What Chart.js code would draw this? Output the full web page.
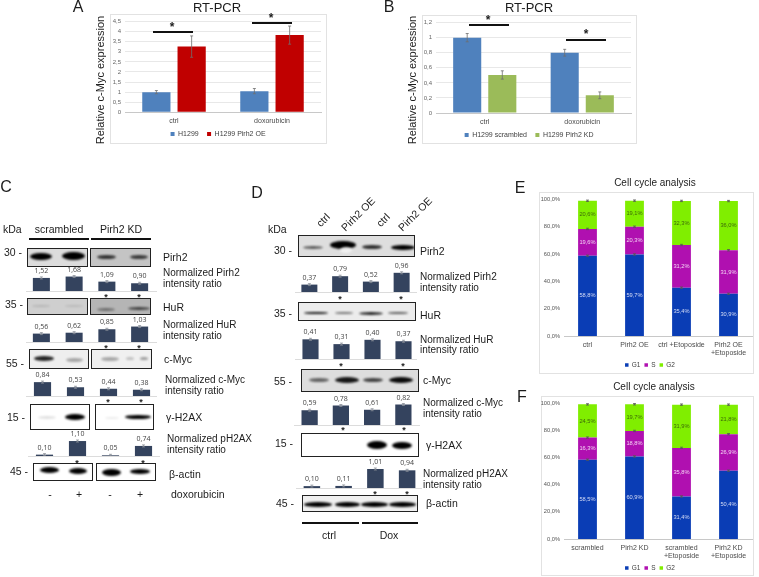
<!DOCTYPE html>
<html>
<head>
<meta charset="utf-8">
<title>c-Myc expression, blots and cell cycle</title>
<script src="https://cdn.jsdelivr.net/npm/chart.js@4"></script>
<style>
html, body { margin: 0; padding: 0; background: #fff; }
#page { position: relative; width: 759px; height: 577px; overflow: hidden; font-family: "Liberation Sans", Arial, sans-serif; color: #1c1c1c; filter: blur(0.35px); }
#page canvas { position: absolute; }
.t { position: absolute; white-space: nowrap; line-height: 1; transform: translateY(-50%); }
.c { transform: translate(-50%, -50%); }
.box { position: absolute; box-sizing: border-box; }
.blot { position: absolute; box-sizing: border-box; border: 1px solid #222; overflow: hidden; }
.band { position: absolute; border-radius: 50%; background: #000; filter: blur(1px); }
</style>
</head>
<body>
<div id="page"></div>
<script>
"use strict";

/*global Chart*/

// panels A and B
var rtCategories = ['ctrl', 'doxorubicin'],
    aTicks = [0, 0.5, 1, 1.5, 2, 2.5, 3, 3.5, 4, 4.5],
    aControl = [1.0, 1.05],
    aControlErr = [0.08, 0.13],
    aPirh2 = [3.26, 3.83],
    aPirh2Err = [0.53, 0.45],
    bScrambled = [1.0, 0.80],
    bScrambledErr = [0.055, 0.045],
    bKnockdown = [0.505, 0.235],
    bKnockdownErr = [0.055, 0.045];

// panels C and D, densitometry under the blots
var cPirh2 = [1.52, 1.68, 1.09, 0.90],
    cHuR = [0.56, 0.62, 0.85, 1.03],
    cMyc = [0.84, 0.53, 0.44, 0.38],
    cH2AX = [0.10, 1.10, 0.05, 0.74],
    dPirh2 = [0.37, 0.79, 0.52, 0.96],
    dHuR = [0.41, 0.31, 0.40, 0.37],
    dMyc = [0.59, 0.78, 0.61, 0.82],
    dH2AX = [0.10, 0.11, 1.01, 0.94];

// panels E and F, cell cycle
var eCategories = ['ctrl', 'Pirh2 OE', 'ctrl +Etoposide', ['Pirh2 OE', '+Etoposide']],
    eG1 = [58.8, 59.7, 35.4, 30.9],
    eS = [19.6, 20.3, 31.2, 31.9],
    eG2 = [20.6, 19.1, 32.3, 36.0],
    fCategories = ['scrambled', 'Pirh2 KD', ['scrambled', '+Etoposide'], ['Pirh2 KD', '+Etoposide']],
    fG1 = [58.5, 60.9, 31.4, 50.4],
    fS = [16.3, 18.8, 35.8, 26.9],
    fG2 = [24.5, 19.7, 31.9, 21.8],
    cycleErr = [0.5, 0.5, 0.5, 0.5];

var page = document.getElementById('page');

var comma = function (v, digits) {
    return v.toFixed(digits).replace('.', ',');
};

var text = function (str, x, y, size, center, extra) {
    var el = document.createElement('span');
    el.className = center ? 't c' : 't';
    el.textContent = str;
    el.style.left = x + 'px';
    el.style.top = y + 'px';
    el.style.fontSize = size + 'px';
    if (extra) {
        Object.assign(el.style, extra);
    }
    page.appendChild(el);
    return el;
};

var star = function (x, y, size) {
    text('*', x, y + size * 0.2, size, true, { fontWeight: 'bold' });
};

var rule = function (x1, x2, y, height, color) {
    var el = document.createElement('div');
    el.className = 'box';
    el.style.cssText += 'left:' + x1 + 'px;top:' + y + 'px;width:' + (x2 - x1) + 'px;height:' + height + 'px;background:' + color;
    page.appendChild(el);
};

var blot = function (x1, x2, y1, y2, bg, bands) {
    var el = document.createElement('div');
    el.className = 'blot';
    el.style.cssText += 'left:' + x1 + 'px;top:' + y1 + 'px;width:' + (x2 - x1) + 'px;height:' + (y2 - y1) + 'px;background:' + bg;
    bands.forEach(function (b) {
        var band = document.createElement('div');
        band.className = 'band';
        band.style.cssText += 'left:' + (b[0] - b[2] / 2 - x1 - 1) + 'px;top:' + (b[1] - b[3] / 2 - y1 - 1) +
            'px;width:' + b[2] + 'px;height:' + b[3] + 'px;opacity:' + b[4] + (b[5] ? ';background:' + b[5] : '');
        el.appendChild(band);
    });
    page.appendChild(el);
};

var addCanvas = function (left, top, width, height) {
    var canvas = document.createElement('canvas');
    canvas.width = width;
    canvas.height = height;
    canvas.style.left = left + 'px';
    canvas.style.top = top + 'px';
    page.appendChild(canvas);
    return canvas.getContext('2d');
};

// whiskers are not in Chart.js, so draw them from the same scales as the bars
var errorBars = {
    id: 'errorBars',
    afterDatasetsDraw: function (chart, args, options) {
        var ctx = chart.ctx,
            scale = chart.scales.y;
        ctx.save();
        ctx.strokeStyle = options.color;
        ctx.lineWidth = 0.8;
        chart.data.datasets.forEach(function (ds, i) {
            if (!ds.errors) {
                return;
            }
            chart.getDatasetMeta(i).data.forEach(function (bar, j) {
                var d = Math.abs(scale.getPixelForValue(ds.errors[j]) - scale.getPixelForValue(0));
                ctx.beginPath();
                ctx.moveTo(bar.x, bar.y - d);
                ctx.lineTo(bar.x, bar.y + d);
                ctx.moveTo(bar.x - 1.5, bar.y - d);
                ctx.lineTo(bar.x + 1.5, bar.y - d);
                ctx.moveTo(bar.x - 1.5, bar.y + d);
                ctx.lineTo(bar.x + 1.5, bar.y + d);
                ctx.stroke();
            });
        });
        ctx.restore();
    },
};

// percent labels in the stacked bars, value labels above the small bars
var valueLabels = {
    id: 'valueLabels',
    afterDatasetsDraw: function (chart, args, options) {
        var ctx = chart.ctx;
        if (!options.mode) {
            return;
        }
        ctx.save();
        ctx.textAlign = 'center';
        ctx.textBaseline = 'middle';
        chart.data.datasets.forEach(function (ds, i) {
            chart.getDatasetMeta(i).data.forEach(function (bar, j) {
                var v = ds.data[j];
                if (options.mode === 'inside') {
                    ctx.font = '5.7px "Liberation Sans"';
                    ctx.fillStyle = ds.labelColor;
                    ctx.fillText(comma(v, 1) + '%', bar.x, (bar.y + bar.base) / 2);
                } else {
                    ctx.font = '7px "Open Sans"';
                    ctx.fillStyle = '#444';
                    ctx.fillText(comma(v, 2), bar.x, bar.y - 7);
                }
            });
        });
        ctx.restore();
    },
};

// the legend centres under the plot, the figure has it a bit further right
var legendShift = {
    id: 'legendShift',
    afterLayout: function (chart, args, options) {
        if (options.by && chart.legend) {
            chart.legend.left += options.by;
            chart.legend.right += options.by;
        }
    },
};

Chart.register(errorBars, valueLabels, legendShift);

var bigChart = function (box, plot, legend, data, yOptions, extra) {
    var border = document.createElement('div'),
        legendH = legend.size + 2 * legend.gap,
        legendTop = legend.y - legendH / 2,
        padRight = box.x2 - plot.right,
        ctx,
        chart;
    border.className = 'box';
    border.style.cssText += 'left:' + box.x1 + 'px;top:' + box.y1 + 'px;width:' + (box.x2 - box.x1) + 'px;height:' + (box.y2 - box.y1) + 'px;border:1px solid #e2e2e2';
    page.appendChild(border);
    ctx = addCanvas(box.x1, box.y1, box.x2 - box.x1, box.y2 - box.y1);
    chart = new Chart(ctx, {
        type: 'bar',
        data: data,
        options: {
            responsive: false,
            animation: false,
            events: [],
            layout: {
                padding: {
                    top: plot.top - box.y1,
                    right: padRight,
                    bottom: box.y2 - legendTop - legendH,
                    left: 0,
                },
            },
            plugins: {
                legend: {
                    position: 'bottom',
                    labels: {
                        boxWidth: legend.size - 3,
                        boxHeight: legend.size - 3,
                        padding: legend.gap,
                        color: '#404040',
                        font: { size: legend.size, family: '"Liberation Sans"' },
                        generateLabels: function (c) {
                            // extra room between the entries, the gap above is also the vertical one
                            return Chart.defaults.plugins.legend.labels.generateLabels(c).map(function (item) {
                                item.text += legend.tail;
                                return item;
                            });
                        },
                    },
                },
                legendShift: { by: legend.x - (box.x1 + plot.right) / 2 },
                tooltip: { enabled: false },
                errorBars: { color: extra.errColor },
                valueLabels: { mode: extra.labels },
            },
            scales: {
                x: {
                    stacked: extra.stacked,
                    afterFit: function (scale) {
                        scale.height = legendTop - plot.bottom;
                    },
                    grid: { display: false, drawTicks: false },
                    border: { color: '#c8c8c8' },
                    ticks: {
                        autoSkip: false,
                        maxRotation: 0,
                        padding: 5,
                        color: '#4a4a4a',
                        font: { size: 7, family: '"Liberation Sans"', lineHeight: 1.15 },
                    },
                },
                y: Object.assign({
                    stacked: extra.stacked,
                    afterFit: function (scale) {
                        scale.width = plot.left - box.x1;
                    },
                    border: { display: false },
                }, yOptions),
            },
        },
    });
    // the layout keeps a little more room at the bottom than asked, take it back
    chart.options.layout.padding.bottom += chart.chartArea.bottom - (plot.bottom - box.y1);
    chart.update();
    return chart;
};

var smallBars = function (values, firstX, lastX, baseY, pxPerUnit, ruleX1, ruleX2) {
    var step = (lastX - firstX) / 3,
        height = 40,
        ctx;
    rule(ruleX1, ruleX2, baseY, 1, '#dcdcdc');
    ctx = addCanvas(firstX - step / 2, baseY - height, Math.round(step * 4), height);
    return new Chart(ctx, {
        type: 'bar',
        data: {
            labels: ['1', '2', '3', '4'],
            datasets: [{
                data: values,
                errors: values.map(function () { return 1 / pxPerUnit; }),
                backgroundColor: '#34435e',
                barPercentage: 0.52,
                categoryPercentage: 1,
            }],
        },
        options: {
            responsive: false,
            animation: false,
            events: [],
            plugins: {
                legend: { display: false },
                tooltip: { enabled: false },
                errorBars: { color: '#8a8f98' },
                valueLabels: { mode: 'above' },
            },
            scales: {
                x: { display: false },
                y: { display: false, min: 0, max: height / pxPerUnit },
            },
        },
    });
};

var lightGrid = { color: '#e8e8e8', drawTicks: false };

var rtTicks = function (v) {
    return comma(v, Number.isInteger(Math.round(v * 1000) / 1000) ? 0 : 1);
};

// A
text('A', 78, 7, 16, true);
text('RT-PCR', 217, 7, 13, true);
text('Relative c-Myc expression', 100, 80, 11, true, { transform: 'translate(-50%, -50%) rotate(-90deg)' });
bigChart({ x1: 110, x2: 327, y1: 14, y2: 144 }, { left: 125, right: 321, top: 20.7, bottom: 112.3 }, { x: 220, y: 134, size: 7, gap: 4.5, tail: '\u00a0\u00a0' }, {
    labels: rtCategories,
    datasets: [
        { label: 'H1299', data: aControl, errors: aControlErr, backgroundColor: '#4f81bd', barPercentage: 0.8, categoryPercentage: 0.72 },
        { label: 'H1299 Pirh2 OE', data: aPirh2, errors: aPirh2Err, backgroundColor: '#c00000', barPercentage: 0.8, categoryPercentage: 0.72 },
    ],
}, {
    min: 0,
    max: 4.5,
    grid: lightGrid,
    afterBuildTicks: function (scale) {
        scale.ticks = aTicks.map(function (v) { return { value: v }; });
    },
    ticks: { autoSkip: false, padding: 4, color: '#666', font: { size: 6, family: '"Liberation Sans"' }, callback: rtTicks },
}, { errColor: '#6e6e6e' });
rule(153, 193, 31, 2, '#111');
star(172, 25, 12);
rule(252, 292, 22, 2, '#111');
star(271, 16, 12);

// B
text('B', 389, 7, 16, true);
text('RT-PCR', 529, 7, 13, true);
text('Relative c-Myc expression', 412, 80, 11, true, { transform: 'translate(-50%, -50%) rotate(-90deg)' });
bigChart({ x1: 422, x2: 637, y1: 15, y2: 144 }, { left: 436, right: 631, top: 21, bottom: 113 }, { x: 531, y: 135, size: 7, gap: 4.5, tail: '\u00a0\u00a0' }, {
    labels: rtCategories,
    datasets: [
        { label: 'H1299 scrambled', data: bScrambled, errors: bScrambledErr, backgroundColor: '#4f81bd', barPercentage: 0.8, categoryPercentage: 0.72 },
        { label: 'H1299 Pirh2 KD', data: bKnockdown, errors: bKnockdownErr, backgroundColor: '#9bbb59', barPercentage: 0.8, categoryPercentage: 0.72 },
    ],
}, {
    min: 0,
    max: 1.2,
    grid: lightGrid,
    ticks: { autoSkip: false, stepSize: 0.2, padding: 4, color: '#666', font: { size: 6, family: '"Liberation Sans"' }, callback: rtTicks },
}, { errColor: '#6e6e6e' });
rule(469, 509, 24, 2, '#111');
star(488, 18, 12);
rule(566, 606, 39, 2, '#111');
star(586, 32, 12);

// C
text('C', 6, 187, 16, true);
text('kDa', 3, 229, 10.5);
text('scrambled', 59, 229, 10.5, true);
text('Pirh2 KD', 121, 229, 10.5, true);
rule(29, 89, 238, 2, '#111');
rule(91, 151, 238, 2, '#111');
text('30 -', 4, 252, 10.5);
text('35 -', 5, 304, 10.5);
text('55 -', 6, 363, 10.5);
text('15 -', 7, 417, 10.5);
text('45 -', 10, 471, 10.5);

blot(27, 88, 248, 267, '#dcdcdc', [[41, 256, 22, 7, 1], [73, 256, 23, 8, 1]]);
blot(90, 151, 248, 267, '#c4c4c4', [[106, 257, 19, 4, 0.75], [139, 257, 18, 4, 0.7]]);
blot(27, 88, 298, 315, '#cfcfcf', [[41, 306, 18, 2, 0.12], [74, 306, 18, 2, 0.1]]);
blot(90, 151, 298, 315, '#b5b5b5', [[106, 309, 18, 3, 0.4], [139, 308, 22, 3, 0.65]]);
blot(29, 89, 349, 369, '#eeeeee', [[44, 358, 20, 5, 0.85], [74, 360, 17, 4, 0.3]]);
blot(91, 152, 349, 369, '#f0f0f0', [[110, 359, 18, 4, 0.3], [130, 358, 8, 3, 0.2], [144, 358, 8, 3, 0.35]]);
blot(30, 90, 404, 430, '#fff', [[47, 417, 18, 3, 0.12], [75, 417, 20, 6, 1]]);
blot(95, 154, 404, 430, '#fff', [[112, 418, 14, 2, 0.08], [138, 417, 26, 4, 1]]);
blot(33, 93, 463, 481, '#fff', [[49, 470, 19, 6, 1], [78, 471, 18, 6, 1]]);
blot(96, 156, 463, 481, '#fff', [[111, 472, 19, 7, 1], [140, 471, 20, 5, 1]]);

smallBars(cPirh2, 41, 139, 291, 8.6, 26, 157);
smallBars(cHuR, 41, 139, 342, 15, 26, 157);
smallBars(cMyc, 42, 141, 396, 16.5, 26, 157);
smallBars(cH2AX, 44, 143, 456, 13.6, 28, 160);

[106, 139].forEach(function (x) { star(x, 295, 9); });
[106, 139].forEach(function (x) { star(x, 346, 9); });
[108, 141].forEach(function (x) { star(x, 400, 9); });
[77, 143].forEach(function (x) { star(x, 461, 9); });

text('Pirh2', 163, 257, 10.5);
text('Normalized Pirh2', 163, 273, 10);
text('intensity ratio', 163, 284, 10);
text('HuR', 163, 307, 10.5);
text('Normalized HuR', 163, 325, 10);
text('intensity ratio', 163, 336, 10);
text('c-Myc', 164, 359, 10.5);
text('Normalized c-Myc', 165, 380, 10);
text('intensity ratio', 165, 391, 10);
text('\u03B3-H2AX', 166, 417, 10.5);
text('Normalized pH2AX', 167, 439, 10);
text('intensity ratio', 167, 450, 10);
text('\u03B2-actin', 169, 474, 10.5);
text('doxorubicin', 171, 494, 10.5);
[['-', 50], ['+', 79], ['-', 110], ['+', 140]].forEach(function (s) { text(s[0], s[1], 494, 10.5, true); });

// D
text('D', 257, 193, 16, true);
text('kDa', 268, 229, 10.5);
[['ctrl', 323, 220], ['Pirh2 OE', 358, 214], ['ctrl', 383, 220], ['Pirh2 OE', 415, 214]].forEach(function (s) {
    text(s[0], s[1], s[2], 10.5, true, { transform: 'translate(-50%, -50%) rotate(-45deg)' });
});
text('30 -', 274, 250, 10.5);
text('35 -', 274, 313, 10.5);
text('55 -', 274, 381, 10.5);
text('15 -', 275, 443, 10.5);
text('45 -', 276, 503, 10.5);

blot(298, 415, 235, 257, '#dedede', [[313, 247, 20, 3, 0.6], [343, 245, 26, 8, 1], [346, 250, 12, 6, 0.9, '#f4f4f4'], [372, 247, 20, 4, 0.8], [403, 247, 24, 5, 1]]);
blot(298, 416, 302, 321, '#ececec', [[316, 313, 24, 2.5, 0.9], [344, 313, 18, 2.5, 0.5], [371, 313, 24, 3, 0.85], [398, 313, 20, 2.5, 0.6]]);
blot(301, 419, 369, 392, '#dddddd', [[319, 380, 20, 4, 0.55], [347, 380, 24, 6, 0.9], [373, 380, 20, 4, 0.7], [401, 380, 24, 6, 0.95]]);
blot(301, 419, 433, 457, '#fff', [[377, 445, 20, 8, 1], [402, 445, 20, 7, 1]]);
blot(302, 418, 495, 512, '#f0f0f0', [[318, 504, 28, 5, 1], [347, 504, 25, 5, 1], [374, 504, 27, 5, 1], [402, 504, 27, 5, 1]]);

smallBars(dPirh2, 309, 401, 292, 20, 295, 417);
smallBars(dHuR, 310, 403, 359, 48, 295, 417);
smallBars(dMyc, 310, 404, 425, 25, 294, 420);
smallBars(dH2AX, 312, 407, 488, 18.8, 296, 422);

[340, 401].forEach(function (x) { star(x, 297, 9); });
[341, 403].forEach(function (x) { star(x, 364, 9); });
[343, 404].forEach(function (x) { star(x, 428, 9); });
[375, 407].forEach(function (x) { star(x, 492, 9); });

text('Pirh2', 420, 251, 10.5);
text('Normalized Pirh2', 420, 277, 10);
text('intensity ratio', 420, 288, 10);
text('HuR', 420, 315, 10.5);
text('Normalized HuR', 420, 340, 10);
text('intensity ratio', 420, 350, 10);
text('c-Myc', 423, 380, 10.5);
text('Normalized c-Myc', 423, 403, 10);
text('intensity ratio', 423, 414, 10);
text('\u03B3-H2AX', 426, 445, 10.5);
text('Normalized pH2AX', 423, 474, 10);
text('intensity ratio', 423, 485, 10);
text('\u03B2-actin', 426, 503, 10.5);
rule(302, 359, 522, 2, '#111');
rule(362, 418, 522, 2, '#111');
text('ctrl', 329, 535, 10.5, true);
text('Dox', 389, 535, 10.5, true);

// E and F
var cycleY = {
    min: 0,
    max: 100,
    grid: { display: false, drawTicks: false },
    ticks: {
        stepSize: 20,
        padding: 4,
        autoSkip: false,
        color: '#555',
        font: { size: 5.7, family: '"Liberation Sans"' },
        callback: function (v) { return comma(v, 1) + '%'; },
    },
};

var cycleData = function (labels, g1, s, g2) {
    var shared = { barPercentage: 0.4, categoryPercentage: 1, errors: cycleErr };
    return {
        labels: labels,
        datasets: [
            Object.assign({ label: 'G1', data: g1, backgroundColor: '#0a3db5', labelColor: '#d5dcf5' }, shared),
            Object.assign({ label: 'S', data: s, backgroundColor: '#b010b0', labelColor: '#f3d3f3' }, shared),
            Object.assign({ label: 'G2', data: g2, backgroundColor: '#80ee00', labelColor: '#3d6a08' }, shared),
        ],
    };
};

text('E', 520, 188, 16, true);
text('Cell cycle analysis', 655, 183, 10, true);
bigChart({ x1: 539, x2: 754, y1: 192, y2: 374 }, { left: 564, right: 752, top: 198, bottom: 336 }, { x: 650, y: 365, size: 6.5, gap: 4, tail: '' },
    cycleData(eCategories, eG1, eS, eG2), cycleY, { stacked: true, labels: 'inside', errColor: '#555' });

text('F', 522, 397, 16, true);
text('Cell cycle analysis', 654, 387, 10, true);
bigChart({ x1: 541, x2: 754, y1: 396, y2: 576 }, { left: 564, right: 752, top: 403, bottom: 539 }, { x: 650, y: 568, size: 6.5, gap: 4, tail: '' },
    cycleData(fCategories, fG1, fS, fG2), cycleY, { stacked: true, labels: 'inside', errColor: '#555' });
</script>
</body>
</html>
